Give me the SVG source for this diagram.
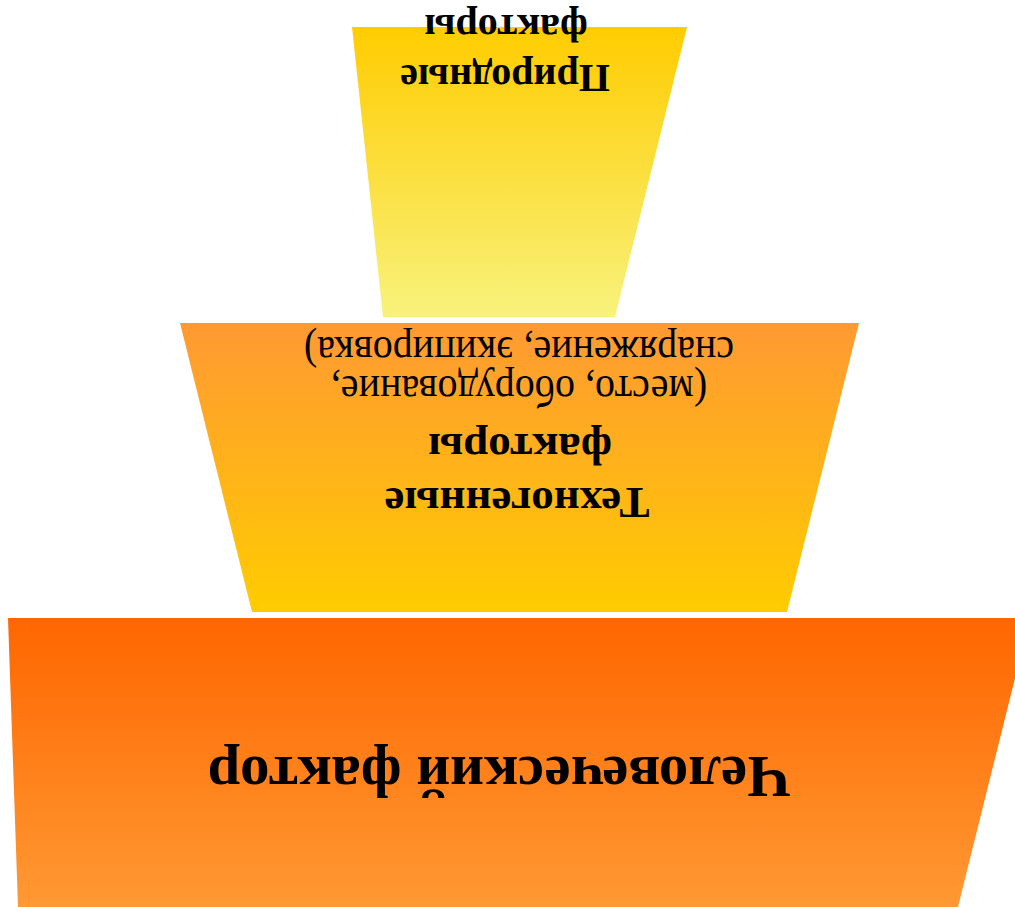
<svg xmlns="http://www.w3.org/2000/svg" width="1015" height="907" viewBox="0 0 1015 907">
<style>
.t{font-family:"Liberation Serif","Times New Roman",serif;fill:#000;text-anchor:middle}
.b{font-weight:bold}
</style>
<defs>
<linearGradient id="g1" x1="0" y1="0" x2="0" y2="1"><stop offset="0" stop-color="#FFCC00"/><stop offset="1" stop-color="#F8F27C"/></linearGradient>
<linearGradient id="g2" x1="0" y1="0" x2="0" y2="1"><stop offset="0" stop-color="#FF9933"/><stop offset="1" stop-color="#FFCC00"/></linearGradient>
<linearGradient id="g3" x1="0" y1="0" x2="0" y2="1"><stop offset="0" stop-color="#FF6600"/><stop offset="1" stop-color="#FF9933"/></linearGradient>
</defs>
<rect width="1015" height="907" fill="#fff"/>
<g id="node-natural">
<polygon points="352,27 687,27 615,317 383,317" fill="url(#g1)"/>
<text class="t b" font-size="40" x="505" y="65" transform="rotate(180 505 65)">Природные</text>
<text class="t b" font-size="40" x="506" y="15" transform="rotate(180 506 15)">факторы</text>
</g>
<g id="node-technogenic">
<polygon points="180,323 859,323 787,612 252,612" fill="url(#g2)"/>
<text class="t b" font-size="45" x="517" y="488" transform="rotate(180 517 488)">Техногенные</text>
<text class="t b" font-size="45" x="520" y="434" transform="rotate(180 520 434)">факторы</text>
<text class="t" font-size="40" x="0" y="0" transform="translate(519 376) rotate(180) scale(1 1.1)">(место, оборудование,</text>
<text class="t" font-size="40" x="0" y="0" transform="translate(519 337) rotate(180) scale(1 1.1)">снаряжение, экипировка)</text>
</g>
<g id="node-human">
<polygon points="8,618 1030,618 958,907 18,907" fill="url(#g3)"/>
<text class="t b" font-size="60" x="0" y="0" transform="translate(499 757) rotate(180) scale(0.98 1)">Человеческий фактор</text>
</g>
<g id="connectors"/>
</svg>
